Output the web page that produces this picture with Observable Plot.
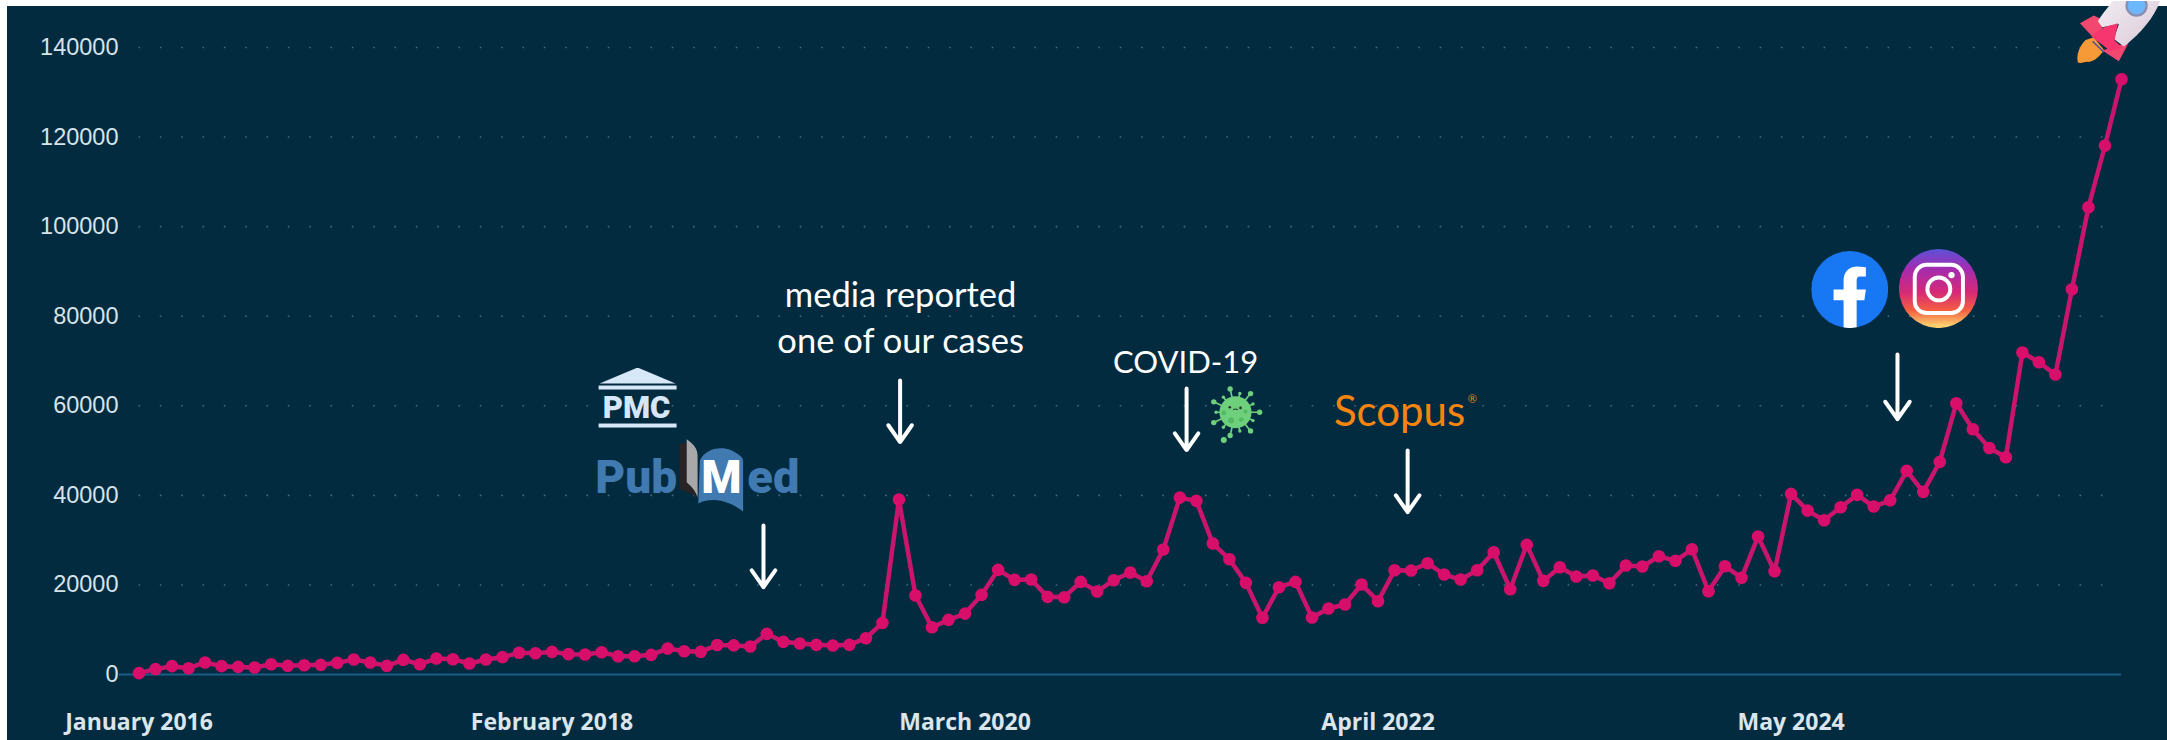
<!DOCTYPE html>
<html><head><meta charset="utf-8">
<script src="https://cdn.jsdelivr.net/npm/d3@7"></script>
<script src="https://cdn.jsdelivr.net/npm/@observablehq/plot@0.6"></script>
<style>
html,body{margin:0;padding:0;background:#fff;overflow:hidden;width:2167px;height:740px}
svg{display:block;margin-left:7px;margin-top:6px}
</style></head><body>
<script>
const values = [
300,1200,1860,1400,2680,1860,1700,1560,2300,1930,2080,2150,2600,3350,2680,1930,3270,2300,3570,3420,
2450,3350,3870,4840,4760,5060,4540,4460,4980,4090,4090,4390,5800,5200,5060,6600,6500,6250,9080,7290,
6920,6620,6470,6620,8110,11530,39060,17630,10560,12200,13600,17780,23360,21130,21200,17340,17260,20680,18530,21050,
22770,20830,27900,39500,38760,29240,25740,20460,12650,19490,20680,12720,14730,15620,20090,16370,23290,23210,24850,22320,
21200,23290,27300,19050,28940,20900,23960,21870,22100,20390,24330,24100,26400,25370,27970,18600,24180,21580,30800,23060,
40320,36600,34450,37350,40100,37500,38900,45460,40770,47470,60560,54760,50590,48500,71890,69730,66980,86030,104330,118100,
132900];
const tickIdx = [0,25,50,75,100];
const tickLabels = ["January 2016","February 2018","March 2020","April 2022","May 2024"];
const yTicks = [0,20000,40000,60000,80000,100000,120000,140000];

const arrowIdx = [37.8,46.07,63.41,76.79,106.44];
const arrowTop = [33270,65640,63850,50010,71450];
const arrowTip = [19500,51900,50100,36250,57000];

const noteText = ["media reported","one of our cases","COVID-19"];
const noteIdx = [46.1,46.1,63.35];
const noteVal = [84500,74300,69500];
const noteSize = [34.5,34.5,31];

const svgUri = s => "data:image/svg+xml," + encodeURIComponent(s);
const wrap = (vb,body) => `<svg xmlns="http://www.w3.org/2000/svg" viewBox="${vb}">${body}</svg>`;

const pmcArt = wrap("0 0 80 62",`<g fill="#d6e7f8"><path d="M2 16 L40 0 L78 16Z"/><rect x="1" y="18" width="78" height="4"/><rect x="1" y="56" width="78" height="4"/></g>`);
const bookArt = wrap("280 235 200 220",`
<path d="M283 252 L305 248 L305 365 C318 375 332 390 335 412 C320 395 300 392 283 385Z" fill="#2a2326"/>
<path d="M305 237 C325 250 338 265 338 285 L338 410 C330 385 315 375 305 365Z" fill="#a8a8aa"/>
<path d="M345 300 C360 270 400 255 440 270 C460 280 475 290 476 300 L476 452 C440 425 390 405 340 428Z" fill="#4179b1"/>`);
const fbArt = wrap("0 0 100 100",`<clipPath id="c"><circle cx="50" cy="50" r="50"/></clipPath><circle cx="50" cy="50" r="50" fill="#1877f2"/>
<path clip-path="url(#c)" fill="#fff" d="M42 100 L42 64 L29 64 L29 50 L42 50 L42 38 C42 26 50 20 60 20 L71 21 L71 33 L63 33 C60 33 59 35 59 39 L59 50 L71 50 L69 64 L59 64 L59 100Z"/>`);
const igArt = wrap("0 0 100 100",`<defs><linearGradient id="g" x1="0" y1="0" x2="0" y2="1">
<stop offset="0" stop-color="#5b51d8"/><stop offset=".25" stop-color="#a42cb0"/><stop offset=".55" stop-color="#d62976"/><stop offset=".78" stop-color="#f56040"/><stop offset=".97" stop-color="#fcd070"/></linearGradient></defs>
<circle cx="50" cy="50" r="50" fill="url(#g)"/>
<rect x="20" y="20" width="61" height="61" rx="15" fill="none" stroke="#fff" stroke-width="5"/>
<circle cx="50.5" cy="50.5" r="14.5" fill="none" stroke="#fff" stroke-width="5"/><circle cx="66.5" cy="33" r="4" fill="#fff"/>`);
const spokes = d3.range(14).map(k => {
  const a = k/14*2*Math.PI, c = Math.cos(a), s = Math.sin(a);
  const r2 = k%2 ? 58 : 72;
  return `<line x1="105" y1="110" x2="${105+r2*c}" y2="${110+r2*s}" stroke="#6fd07c" stroke-width="5"/><circle cx="${105+r2*c}" cy="${110+r2*s}" r="${k%2?5:8}" fill="#6fd07c"/>`;
}).join("");
const virusArt = wrap("0 0 200 220",`${spokes}<circle cx="105" cy="110" r="48" fill="#6fd07c"/>
<circle cx="92" cy="135" r="9" fill="#52b866"/><circle cx="122" cy="132" r="7" fill="#52b866"/><circle cx="70" cy="112" r="7" fill="#52b866"/><circle cx="135" cy="108" r="6" fill="#52b866"/>
<circle cx="88" cy="95" r="4" fill="#233"/><circle cx="120" cy="97" r="4" fill="#233"/><path d="M98 103 Q105 97 112 103" stroke="#233" stroke-width="3" fill="none"/>
<circle cx="70" cy="194" r="9" fill="#6fd07c"/>`);
const rocketArt = wrap("0 0 321 225",`<defs><linearGradient id="b" x1="0" y1="0" x2="1" y2="1"><stop offset="0" stop-color="#f3eef3"/><stop offset="1" stop-color="#d9c9d8"/></linearGradient></defs>
<path d="M75 118 C58 135 46 160 52 186 C62 190 76 182 84 184 C100 182 118 168 130 148 L100 110Z" fill="#f59a36"/>
<path d="M58 68 L100 45 L135 62 L105 118Z" fill="#f2476f"/>
<path d="M205 125 L175 182 L125 150Z" fill="#f2476f"/>
<path d="M96 122 L130 155" stroke="#5c4f9e" stroke-width="5"/>
<path d="M112 62 C125 40 150 10 175 -20 L305 -20 C290 40 250 90 190 138 L160 115 L175 70 L125 80Z" fill="url(#b)"/>
<path d="M92 107 L130 80 L172 68 L162 120 L185 140 L150 152Z" fill="#f7366f"/>
<circle cx="228" cy="15" r="30" fill="#6db7ff" stroke="#8a8fb0" stroke-width="7"/>`);

const iconSrc = [pmcArt,bookArt,fbArt,igArt,virusArt,rocketArt].map(svgUri);
const iconIdx = [30.18,34.65,103.55,108.92,66.27,119.55];
const iconVal = [61620,44430,85960,86180,58560,142100];
const iconW = [80,66,77,79,67,107];
const iconH = [62,74,77,79,73,75];

const logoText = ["PMC","Pub","ed","M"];
const logoIdx = [30.12,30.1,38.4,35.26];
const logoVal = [59500,43900,43900,43760];
const logoFill = ["#d6e7f8","#4179b1","#4179b1","#ffffff"];
const logoSize = [31,46,47,46];

const data = values.map((v,i)=>({i,v}));
const ix = a => a.map((_,k)=>k);

const chart = Plot.plot({
  width:2160, height:734,
  marginLeft:112, marginRight:46, marginTop:41, marginBottom:66,
  style:{background:"#022b40",overflow:"visible"},
  x:{type:"linear",domain:[0,120],range:[131.5,2114]},
  y:{type:"linear",domain:[0,140000],range:[668,41]},
  marks:[
    Plot.ruleY(yTicks.slice(1),{x1:0,x2:120,stroke:"#46697b",strokeWidth:1.6,strokeDasharray:"1.6 19.73"}),
    Plot.ruleY([0],{stroke:"#1b5d87",strokeWidth:2}),
    Plot.axisY({ticks:yTicks,tickSize:0,tickPadding:1,tickFormat:d=>String(d),label:null,fontSize:23.5,fontFamily:"Liberation Sans",fill:"#d7e3ea"}),
    Plot.axisX({ticks:tickIdx,tickSize:0,tickPadding:39,tickFormat:d=>tickLabels[tickIdx.indexOf(d)],label:null,fontSize:23,fontFamily:"Open Sans",fontWeight:700,fill:"#dbe5ec"}),
    Plot.image(ix(iconSrc),{x:k=>iconIdx[k],y:k=>iconVal[k],src:k=>iconSrc[k],width:k=>iconW[k],height:k=>iconH[k],preserveAspectRatio:"none"}),
    Plot.text(ix(logoText),{x:k=>logoIdx[k],y:k=>logoVal[k],text:k=>logoText[k],fill:k=>logoFill[k],fontSize:k=>logoSize[k],fontFamily:"Roboto",fontWeight:900}),
    Plot.line(data,{x:"i",y:"v",stroke:"#c9156c",strokeWidth:4.5,curve:"linear"}),
    Plot.dot(data,{x:"i",y:"v",fill:"#d80e6b",r:6.3}),
    Plot.arrow(ix(arrowIdx),{x1:k=>arrowIdx[k],x2:k=>arrowIdx[k],y1:k=>arrowTop[k],y2:k=>arrowTip[k],stroke:"#fff",strokeWidth:4,headLength:8,headAngle:70}),
    Plot.text(ix(noteText),{x:k=>noteIdx[k],y:k=>noteVal[k],text:k=>noteText[k],fill:"#fff",fontSize:k=>noteSize[k],fontFamily:"Lato"}),
    Plot.text(["Scopus"],{x:[76.3],y:[58580],fill:"#f5850f",fontSize:42,fontFamily:"Lato"}),
    Plot.text(["®"],{x:[80.7],y:[61400],fill:"#f5850f",fontSize:11,fontFamily:"Lato"})
  ]
});
document.body.appendChild(chart);
</script>
</body></html>
